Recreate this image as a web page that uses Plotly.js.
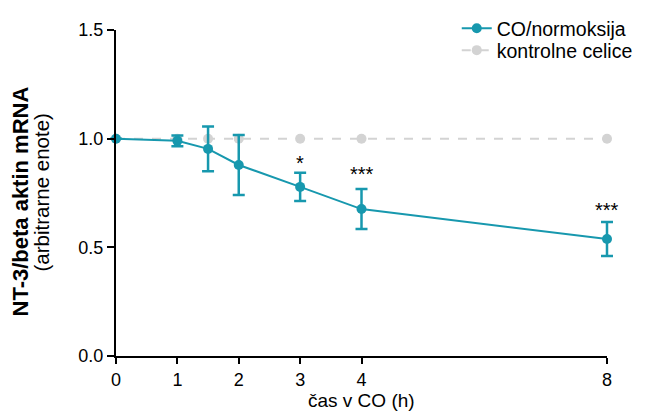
<!DOCTYPE html>
<html><head><meta charset="utf-8">
<script src="https://cdn.plot.ly/plotly-3.0.1.min.js"></script>
<style>html,body{margin:0;padding:0;background:#fff}</style>
</head><body>
<div id="chart" style="width:646px;height:415px"></div>
<script>
const timeCO = [0, 1, 1.5, 2, 3, 4, 8];
const valCO = [1.0, 0.99, 0.953, 0.879, 0.778, 0.676, 0.538];
const errCO = [0, 0.025, 0.103, 0.138, 0.065, 0.092, 0.078];
const timeCtrl = [0, 1, 1.5, 2, 3, 4, 8];
const valCtrl = [1.0, 1.0, 1.0, 1.0, 1.0, 1.0, 1.0];
const sigTimes = [3, 4, 8];
const sigLabels = ["*", "***", "***"];
const xTicks = [0, 1, 2, 3, 4, 8];
const yTicks = [0, 0.5, 1.0, 1.5];
const yTitleMain = 'NT-3/beta aktin mRNA';
const yTitleSub = '(arbitrarne enote)';
const xTitle = 'čas v CO (h)';

const blue = '#1798ae';
const grey = '#d3d3d3';
const font = 'Liberation Sans, Arial, sans-serif';

const traces = [
  {x: timeCtrl, y: valCtrl, name: 'kontrolne celice', mode: 'lines+markers', cliponaxis: false, legend: 'legend2',
   line: {color: grey, width: 2, dash: 'dash'}, marker: {color: grey, size: 10}},
  {x: timeCO, y: valCO, name: 'CO/normoksija', mode: 'lines+markers', cliponaxis: false, legend: 'legend',
   line: {color: blue, width: 2}, marker: {color: blue, size: 10},
   error_y: {type: 'data', array: errCO, visible: true, color: blue, thickness: 2.5, width: 6}}
];

const sigShift = [-5, 0, -3];
const annotations = sigTimes.map((t, i) => {
  const idx = timeCO.indexOf(t);
  return {x: t, y: valCO[idx] + errCO[idx], xref: 'x', yref: 'y', text: sigLabels[i],
    showarrow: false, yanchor: 'bottom', yshift: 2 + sigShift[i], font: {family: font, size: 20, color: '#000'}};
});
annotations.push(
  {x: -0.1955, y: 0.474, xref: 'paper', yref: 'paper', text: '<b>' + yTitleMain + '</b>', textangle: -90,
   showarrow: false, xanchor: 'center', yanchor: 'middle', font: {family: font, size: 22, color: '#000'}},
  {x: -0.1507, y: 0.5015, xref: 'paper', yref: 'paper', text: yTitleSub, textangle: -90,
   showarrow: false, xanchor: 'center', yanchor: 'middle', font: {family: font, size: 20.5, color: '#000'}},
  {x: 0.5, y: -0.135, xref: 'paper', yref: 'paper', text: xTitle, borderpad: 0,
   showarrow: false, xanchor: 'center', yanchor: 'middle', font: {family: font, size: 19, color: '#000'}}
);

const legendBase = {x: 0.694, xanchor: 'left', yanchor: 'top', font: {family: font, size: 19.5},
  bgcolor: 'rgba(0,0,0,0)'};

const layout = {
  width: 646, height: 415,
  margin: {l: 116, r: 39, t: 30, b: 59, autoexpand: false},
  paper_bgcolor: '#fff', plot_bgcolor: '#fff',
  font: {family: font, size: 18, color: '#000'},
  showlegend: true,
  legend: Object.assign({}, legendBase, {y: 1.064}),
  legend2: Object.assign({}, legendBase, {y: 0.997}),
  xaxis: {range: [0, 8], tickvals: xTicks, ticktext: xTicks.map(String),
    showgrid: false, zeroline: false, showline: true, linecolor: '#000', linewidth: 2,
    ticks: 'outside', ticklen: 6, tickwidth: 2, tickcolor: '#000',
    tickfont: {family: font, size: 18}},
  yaxis: {range: [0, 1.5], tickvals: yTicks, ticktext: ['0.0', '0.5', '1.0', '1.5'],
    showgrid: false, zeroline: false, showline: true, linecolor: '#000', linewidth: 2,
    ticks: 'outside', ticklen: 7, tickwidth: 2, tickcolor: '#000',
    tickfont: {family: font, size: 18}},
  annotations: annotations
};

Plotly.newPlot('chart', traces, layout, {displayModeBar: false, staticPlot: true}).then(() => {
  document.querySelectorAll('.cartesianlayer [clip-path], .scatterlayer [clip-path]').forEach(el => el.removeAttribute('clip-path'));
});
</script>
</body></html>
